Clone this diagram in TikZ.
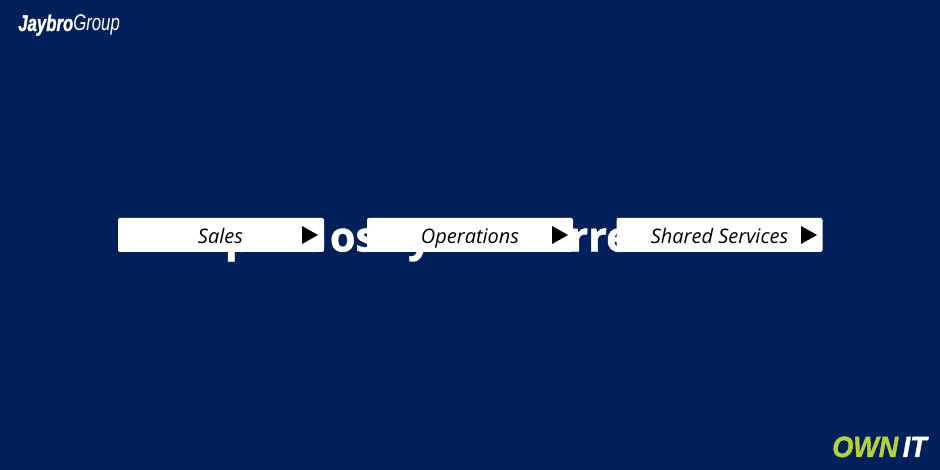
\documentclass[tikz,border=0pt]{standalone}
\usepackage{fontspec}
\usepackage{graphicx}
\setmainfont{Open Sans}
\newfontfamily\logofont{Liberation Sans}
\definecolor{navy}{HTML}{00205B}
\definecolor{lime}{HTML}{B5D334}
\tikzset{
 x=0.75pt,y=-0.75pt,
 menubox/.style={fill=white,rounded corners=1.5pt,minimum width=154.5pt,minimum height=25.5pt,inner sep=0pt},
 menulabel/.style={font=\itshape\fontsize{15}{18}\selectfont,text=black,inner sep=0pt,anchor=base},
 playtip/.style={fill=black},
 titlebit/.style={font=\bfseries\fontsize{31}{36}\selectfont\addfontfeature{FakeBold=1.2},text=white,inner sep=0pt,anchor=base},
}
\begin{document}
\begin{tikzpicture}
\useasboundingbox (0,0) rectangle (940,470);
\fill[navy] (0,0) rectangle (940,470);
\node[titlebit] (t1) at (238,251.5) {p};
\node[titlebit] (t0) at (313,251.5) {o};
\node[titlebit] (t2) at (353,251.5) {os};
\node[titlebit] (t3) at (420,251.5) {y};
\node[titlebit] (t4) at (600,251.5) {rre};
\node[menubox] (b1) at (221,235) {};
\node[menubox] (b2) at (470,235) {};
\node[menubox] (b3) at (719.5,235) {};
\node[menulabel] (l1) at (220.5,243.5) {Sales};
\node[menulabel] (l2) at (470,243.5) {Operations};
\node[menulabel] (l3) at (719.5,243.5) {Shared Services};
\fill[playtip] (302,226) -- (318,235) -- (302,244) -- cycle;
\fill[playtip] (552,226) -- (568,235) -- (552,244) -- cycle;
\fill[playtip] (801,226) -- (817,235) -- (801,244) -- cycle;
\node[inner sep=0pt,anchor=base west,text=white,font=\logofont\fontsize{17}{20}\selectfont] (logo) at (18,31)
 {\scalebox{0.74}[1]{{\addfontfeature{FakeBold=1.5}\textbf{\textit{Jaybro}}}\textit{Group}}};
\node[inner sep=0pt,anchor=base east,font=\logofont\bfseries\itshape\fontsize{22}{25}\selectfont] (own) at (927,457)
 {\scalebox{0.92}[1]{\addfontfeature{FakeBold=1.5}\textcolor{lime}{OWN}\,\textcolor{white}{IT}}};
\end{tikzpicture}
\end{document}
